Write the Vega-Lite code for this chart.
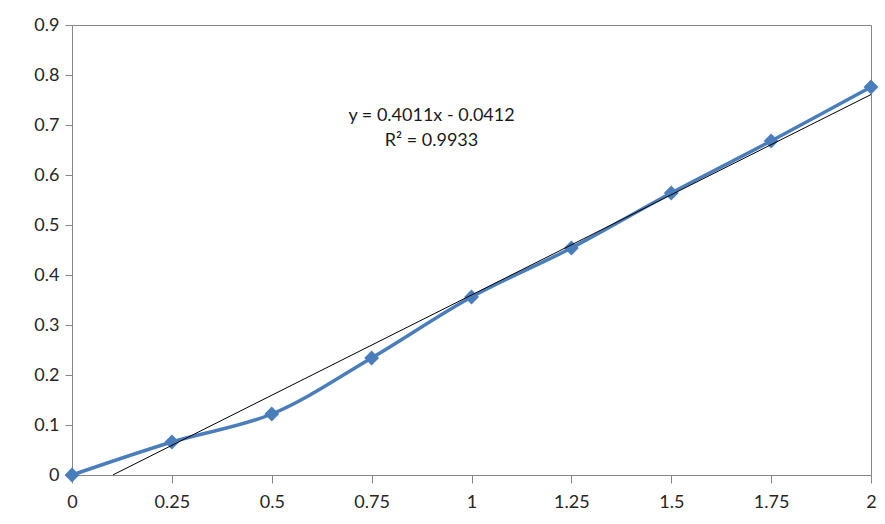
{
  "$schema": "https://vega.github.io/schema/vega-lite/v6.json",
  "width": 799,
  "height": 450,
  "autosize": "none",
  "padding": {"left": 72, "top": 25, "right": 14, "bottom": 49},
  "background": "white",
  "view": {"stroke": "#868686", "strokeWidth": 1},
  "config": {
    "font": "Lato",
    "axis": {
      "domainColor": "#868686",
      "tickColor": "#868686",
      "grid": false,
      "labelFont": "Lato",
      "labelFontSize": 18,
      "labelFontWeight": "normal",
      "labelColor": "#262626",
      "title": null
    }
  },
  "datasets": {
    "pts": [
      {"x": 0, "y": 0},
      {"x": 0.25, "y": 0.066},
      {"x": 0.5, "y": 0.122},
      {"x": 0.75, "y": 0.234},
      {"x": 1, "y": 0.356},
      {"x": 1.25, "y": 0.454},
      {"x": 1.5, "y": 0.564},
      {"x": 1.75, "y": 0.668},
      {"x": 2, "y": 0.776}
    ],
    "note": [{"label": "trend"}]
  },
  "layer": [
    {
      "data": {"name": "pts"},
      "mark": {"type": "line", "interpolate": "catmull-rom", "color": "#4A7EBB", "strokeWidth": 3.5, "clip": false},
      "encoding": {
        "x": {
          "field": "x", "type": "quantitative",
          "scale": {"domain": [0, 2], "nice": false, "zero": false},
          "axis": {"values": [0, 0.25, 0.5, 0.75, 1, 1.25, 1.5, 1.75, 2], "labelExpr": "'' + datum.value", "labelFont": "Liberation Sans Narrow, Lato", "labelFontSize": 18, "tickSize": 8, "labelPadding": 10, "labelFlush": false, "labelOverlap": false}
        },
        "y": {
          "field": "y", "type": "quantitative",
          "scale": {"domain": [0, 0.9], "nice": false},
          "axis": {"values": [0, 0.1, 0.2, 0.3, 0.4, 0.5, 0.6, 0.7, 0.8, 0.9], "labelExpr": "'' + datum.value", "tickSize": 7, "labelPadding": 6, "labelFlush": false, "labelOverlap": false}
        }
      }
    },
    {
      "data": {"name": "pts"},
      "mark": {"type": "point", "shape": "diamond", "filled": true, "size": 220, "color": "#4A7EBB", "opacity": 1, "clip": false},
      "encoding": {
        "x": {"field": "x", "type": "quantitative"},
        "y": {"field": "y", "type": "quantitative"}
      }
    },
    {
      "data": {"name": "pts"},
      "transform": [{"regression": "y", "on": "x", "extent": [0.1027, 2]}],
      "mark": {"type": "line", "color": "black", "strokeWidth": 1},
      "encoding": {
        "x": {"field": "x", "type": "quantitative"},
        "y": {"field": "y", "type": "quantitative"}
      }
    },
    {
      "data": {"name": "note"},
      "mark": {"type": "text", "font": "Lato", "fontSize": 18, "fontWeight": "normal", "color": "#1a1a1a", "lineHeight": 25, "align": "center", "baseline": "middle"},
      "encoding": {
        "x": {"datum": 0.9, "type": "quantitative"},
        "y": {"datum": 0.719, "type": "quantitative"},
        "text": {"value": ["y = 0.4011x - 0.0412", "R² = 0.9933"]}
      }
    }
  ]
}
